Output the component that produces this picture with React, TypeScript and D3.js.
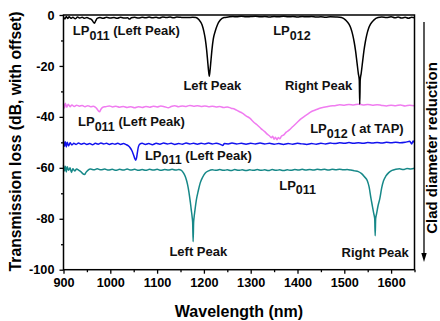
import React, { useEffect, useRef } from "react";
import * as d3 from "d3";

// wavelength (nm), transmission (dB, offset)
const blackCurve: [number, number][] = [
  [900, -0.8], [903, -1.6], [906, -0.6], [909, -1.4], [912, -0.7], [916, -1.3], [920, -0.9], [925, -1.5],
  [930, -0.8], [935, -1.2], [940, -0.9], [945, -1.3], [950, -1.0], [955, -1.4], [960, -1.8], [963, -2.6],
  [966, -3.2], [969, -2.2], [972, -1.3], [978, -1.0], [985, -1.3], [992, -0.9], [1000, -1.2], [1008, -1.0],
  [1015, -1.3], [1022, -0.9], [1030, -1.2], [1037, -1.1], [1041, -1.6], [1045, -1.1], [1052, -0.9],
  [1060, -1.2], [1068, -0.9], [1075, -1.1], [1083, -0.8], [1090, -1.1], [1098, -0.9], [1105, -1.2],
  [1112, -0.8], [1120, -1.0], [1128, -0.8], [1135, -1.1], [1142, -0.8], [1150, -0.9], [1158, -1.0],
  [1166, -1.0], [1176, -0.9], [1183, -1.0], [1190, -2.0], [1196, -3.8], [1200, -6.5], [1203, -9.5],
  [1206, -14], [1208, -18], [1210, -22], [1211.5, -24], [1213, -22], [1215, -18], [1217, -14],
  [1220, -9.5], [1224, -6.5], [1229, -3.8], [1235, -2.0], [1243, -1.0], [1252, -0.8], [1262, -0.6],
  [1270, -0.7], [1280, -0.5], [1290, -0.7], [1300, -0.6], [1310, -0.5], [1320, -0.7], [1330, -0.6],
  [1340, -0.8], [1350, -0.6], [1360, -0.7], [1370, -0.5], [1380, -0.7], [1390, -0.6], [1400, -0.8],
  [1410, -0.6], [1420, -0.7], [1430, -0.6], [1440, -0.8], [1450, -0.7], [1460, -0.9], [1470, -0.7],
  [1482, -0.8], [1494, -1.0], [1503, -2.0], [1510, -3.6], [1514, -5.2], [1518, -7.8], [1521, -10.5],
  [1524, -14], [1527, -18.5], [1530, -23], [1532, -25.5], [1533, -35], [1534, -25.5], [1536, -23],
  [1539, -18.5], [1542, -14], [1545, -10.5], [1548, -7.8], [1552, -5.2], [1556, -3.6], [1563, -2.0],
  [1572, -1.0], [1580, -0.8], [1590, -1.0], [1600, -0.7], [1608, -1.1], [1615, -0.8], [1622, -1.2],
  [1630, -0.9], [1637, -1.3], [1644, -0.9], [1650, -1.1],
];

const pinkCurve: [number, number][] = [
  [900, -34.8], [902, -36.5], [904, -34.6], [907, -36.2], [910, -35.0], [914, -36.0], [918, -35.3],
  [923, -35.9], [928, -35.4], [934, -35.8], [940, -35.5], [946, -36.0], [952, -35.6], [958, -36.0],
  [964, -35.8], [970, -36.5], [974, -37.5], [977, -38.0], [980, -37.0], [984, -36.2], [990, -36.0],
  [998, -35.7], [1005, -36.1], [1012, -35.8], [1020, -36.2], [1028, -35.9], [1036, -36.3], [1044, -36.0],
  [1052, -36.4], [1060, -36.0], [1068, -36.3], [1076, -35.9], [1084, -36.2], [1092, -35.8], [1100, -36.1],
  [1108, -35.7], [1116, -36.0], [1124, -36.4], [1130, -35.9], [1138, -35.6], [1146, -36.0], [1154, -35.7],
  [1162, -35.9], [1170, -35.5], [1178, -35.8], [1186, -35.6], [1194, -35.9], [1202, -35.7], [1210, -36.0],
  [1218, -35.8], [1226, -36.1], [1234, -35.9], [1242, -36.3], [1250, -36.1], [1258, -36.6], [1266, -37.0],
  [1274, -37.8], [1282, -38.5], [1290, -39.6], [1298, -40.5], [1306, -42.0], [1314, -43.2], [1322, -44.6],
  [1330, -45.8], [1336, -46.9], [1340, -47.4], [1344, -48.2], [1347, -47.6], [1350, -48.8], [1353, -48.0],
  [1356, -49.0], [1359, -48.1], [1362, -48.6], [1366, -47.5], [1370, -47.2], [1376, -46.0], [1382, -45.2],
  [1390, -43.8], [1398, -42.4], [1406, -41.0], [1414, -39.9], [1422, -38.9], [1430, -37.9], [1438, -37.3],
  [1446, -36.7], [1454, -36.3], [1462, -36.0], [1470, -35.7], [1480, -35.6], [1490, -35.2], [1500, -35.4],
  [1510, -35.1], [1520, -35.3], [1530, -35.0], [1540, -35.3], [1550, -35.1], [1560, -35.4], [1570, -35.2],
  [1580, -35.5], [1590, -35.7], [1600, -35.4], [1610, -35.6], [1620, -35.3], [1630, -35.7], [1640, -35.4],
  [1650, -35.6],
];

const blueCurve: [number, number][] = [
  [900, -49.4], [902, -51.5], [904, -49.8], [906, -51.8], [908, -50.0], [911, -51.4], [914, -50.2],
  [918, -51.0], [922, -50.4], [927, -50.8], [932, -50.3], [938, -50.7], [944, -50.4], [950, -50.8],
  [956, -50.5], [962, -50.9], [968, -50.4], [974, -50.7], [980, -50.3], [986, -50.6], [992, -50.4],
  [998, -50.8], [1004, -50.5], [1010, -50.7], [1016, -50.4], [1022, -50.8], [1028, -50.5], [1034, -50.9],
  [1038, -51.3], [1042, -52.0], [1046, -53.2], [1049, -54.6], [1052, -56.2], [1054, -57.0], [1056, -56.2],
  [1058, -53.8], [1060, -51.8], [1063, -50.7], [1068, -50.4], [1075, -50.8], [1082, -50.5], [1090, -50.9],
  [1098, -50.4], [1106, -50.7], [1114, -50.3], [1122, -50.6], [1130, -50.4], [1138, -50.8], [1146, -50.5],
  [1154, -50.7], [1162, -50.3], [1170, -50.6], [1178, -50.4], [1186, -50.7], [1194, -50.4], [1202, -50.6],
  [1210, -50.3], [1218, -50.6], [1226, -50.4], [1234, -50.7], [1240, -51.2], [1244, -50.5], [1252, -50.6],
  [1260, -50.3], [1270, -50.6], [1280, -50.4], [1290, -50.7], [1300, -50.4], [1310, -50.6], [1320, -50.3],
  [1330, -50.6], [1340, -50.4], [1350, -50.7], [1360, -50.5], [1370, -50.8], [1380, -50.5], [1390, -50.7],
  [1400, -50.4], [1410, -50.6], [1420, -50.8], [1430, -50.5], [1440, -50.7], [1450, -50.4], [1460, -50.6],
  [1470, -50.3], [1480, -50.5], [1490, -50.2], [1500, -50.4], [1510, -50.1], [1520, -50.4], [1530, -50.2],
  [1540, -50.4], [1550, -50.1], [1560, -50.3], [1570, -50.1], [1580, -50.3], [1590, -50.0], [1600, -50.2],
  [1610, -50.0], [1620, -50.2], [1630, -50.0], [1640, -49.6], [1644, -50.6], [1647, -49.5], [1650, -50.2],
];

const tealCurve: [number, number][] = [
  [900, -59.0], [902, -61.2], [904, -59.4], [906, -61.6], [908, -59.6], [911, -61.0], [914, -60.0],
  [917, -61.8], [920, -60.4], [924, -61.2], [928, -60.5], [933, -61.0], [937, -61.5], [941, -62.3],
  [945, -62.6], [948, -61.8], [952, -61.0], [958, -60.5], [965, -60.8], [972, -60.4], [980, -60.8],
  [988, -60.5], [996, -60.9], [1004, -60.6], [1012, -61.0], [1020, -60.6], [1028, -60.9], [1036, -60.5],
  [1044, -60.9], [1052, -60.6], [1060, -61.0], [1068, -60.7], [1076, -61.0], [1084, -60.6], [1092, -60.9],
  [1100, -60.6], [1108, -61.0], [1116, -60.7], [1124, -60.9], [1132, -60.6], [1140, -60.9], [1146, -60.7],
  [1152, -61.0], [1157, -62.2], [1161, -63.8], [1165, -66.5], [1168, -69.5], [1171, -73.5], [1173, -76.5],
  [1175, -79.5], [1176, -81.5], [1177, -89.0], [1178, -81.5], [1179, -79.5], [1181, -76.5], [1184, -72.5],
  [1188, -69.0], [1192, -66.0], [1197, -63.8], [1203, -62.0], [1210, -61.2], [1218, -60.8], [1226, -61.0],
  [1234, -60.7], [1242, -61.0], [1250, -60.8], [1258, -61.1], [1266, -60.7], [1274, -61.0], [1282, -60.8],
  [1290, -61.1], [1298, -60.8], [1306, -61.0], [1314, -60.7], [1322, -61.0], [1330, -60.8], [1338, -61.1],
  [1346, -60.7], [1354, -61.0], [1362, -60.8], [1370, -61.1], [1378, -60.8], [1386, -61.0], [1394, -60.7],
  [1402, -60.9], [1410, -60.6], [1418, -60.9], [1426, -60.7], [1434, -60.9], [1442, -60.6], [1450, -60.8],
  [1458, -60.6], [1466, -60.9], [1474, -60.6], [1482, -60.8], [1490, -60.6], [1498, -60.8], [1506, -60.7],
  [1514, -60.9], [1522, -61.2], [1530, -61.5], [1537, -62.3], [1543, -63.5], [1549, -65.0], [1553, -67.5],
  [1557, -72.0], [1560, -75.0], [1563, -78.0], [1565, -80.0], [1566, -86.7], [1567, -80.0], [1569, -78.0],
  [1572, -75.0], [1576, -72.0], [1580, -67.8], [1584, -65.0], [1589, -63.2], [1595, -61.9], [1602, -61.0],
  [1610, -60.6], [1618, -60.4], [1626, -60.7], [1634, -60.3], [1642, -60.5], [1650, -60.2],
];

const xMajorTicks = [900, 1000, 1100, 1200, 1300, 1400, 1500, 1600];
const xMinorTicks = [950, 1050, 1150, 1250, 1350, 1450, 1550, 1650];
const yMajorTicks = [0, -20, -40, -60, -80, -100];
const yMinorTicks = [-10, -30, -50, -70, -90];

// annotations: [main, subscript, rest, wavelength, dB, anchor]
const labels: [string, string, string, number, number, string][] = [
  ["LP", "011", " (Left Peak)", 920, -7.9, "start"],
  ["Left Peak", "", "", 1218, -29.5, "middle"],
  ["LP", "012", "", 1348, -7.9, "start"],
  ["Right Peak", "", "", 1445, -29.6, "middle"],
  ["LP", "011", " (Left Peak)", 931, -43.6, "start"],
  ["LP", "012", " ( at TAP)", 1427, -46.4, "start"],
  ["LP", "011", " (Left Peak)", 1074, -56.9, "start"],
  ["LP", "011", "", 1361, -68.7, "start"],
  ["Left Peak", "", "", 1188, -94.6, "middle"],
  ["Right Peak", "", "", 1566, -94.9, "middle"],
];

const series = [
  { data: tealCurve, color: "#168888" },
  { data: blueCurve, color: "#1212ee" },
  { data: pinkCurve, color: "#f07cf0" },
  { data: blackCurve, color: "#000000" },
];

const FONT = "'Liberation Sans', Arial, sans-serif";

const App = () => {
  const ref = useRef<SVGSVGElement>(null);

  useEffect(() => {
    const svg = d3.select(ref.current);
    svg.selectAll("*").remove();

    const x = d3.scaleLinear().domain([900, 1650]).range([63.5, 414.5]);
    const y = d3.scaleLinear().domain([-100, 0]).range([269.7, 15]);

    const line = d3
      .line<[number, number]>()
      .x((d) => x(d[0]))
      .y((d) => y(d[1]))
      .curve(d3.curveMonotoneX);

    series.forEach((s) => {
      svg
        .append("path")
        .attr("d", line(s.data))
        .attr("fill", "none")
        .attr("stroke", s.color)
        .attr("stroke-width", 1.5)
        .attr("stroke-linejoin", "round");
    });

    // frame
    svg
      .append("rect")
      .attr("x", x(900))
      .attr("y", y(0))
      .attr("width", x(1650) - x(900))
      .attr("height", y(-100) - y(0))
      .attr("fill", "none")
      .attr("stroke", "#000")
      .attr("stroke-width", 1.5);

    const styleAxis = (g: any) => {
      g.select(".domain").remove();
      g.selectAll("line").attr("stroke", "#000").attr("stroke-width", 1.3);
      g.selectAll("text")
        .attr("font-family", FONT)
        .attr("font-weight", "bold")
        .attr("font-size", 12.7)
        .attr("fill", "#000");
    };

    svg
      .append("g")
      .attr("transform", `translate(0,${y(-100)})`)
      .call(d3.axisBottom(x).tickValues(xMajorTicks).tickSize(4).tickPadding(4.3).tickFormat((d) => String(d)))
      .call(styleAxis);
    svg
      .append("g")
      .attr("transform", `translate(0,${y(-100)})`)
      .call(d3.axisBottom(x).tickValues(xMinorTicks).tickSize(2.5).tickFormat(() => ""))
      .call(styleAxis);
    svg
      .append("g")
      .attr("transform", `translate(${x(900)},0)`)
      .call(d3.axisLeft(y).tickValues(yMajorTicks).tickSize(4).tickPadding(5).tickFormat((d) => String(d)))
      .call(styleAxis);
    svg
      .append("g")
      .attr("transform", `translate(${x(900)},0)`)
      .call(d3.axisLeft(y).tickValues(yMinorTicks).tickSize(2.5).tickFormat(() => ""))
      .call(styleAxis);

    // annotations
    labels.forEach(([main, sub, rest, wl, db, anchor]) => {
      const t = svg
        .append("text")
        .attr("x", x(wl))
        .attr("y", y(db))
        .attr("text-anchor", anchor)
        .attr("font-family", FONT)
        .attr("font-weight", "bold")
        .attr("font-size", 13)
        .attr("fill", "#111");
      t.append("tspan").text(main);
      if (sub) t.append("tspan").attr("dy", 4.5).attr("font-size", 12.5).text(sub);
      if (rest) t.append("tspan").attr("dy", -4.5).text(rest);
    });

    // axis titles
    svg
      .append("text")
      .attr("x", 239)
      .attr("y", 316.5)
      .attr("text-anchor", "middle")
      .attr("font-family", FONT)
      .attr("font-weight", "bold")
      .attr("font-size", 16)
      .text("Wavelength (nm)");
    svg
      .append("text")
      .attr("transform", "translate(20.5,141.5) rotate(-90)")
      .attr("text-anchor", "middle")
      .attr("font-family", FONT)
      .attr("font-weight", "bold")
      .attr("font-size", 15.7)
      .text("Transmission loss (dB, with offset)");

    // clad diameter arrow
    svg
      .append("line")
      .attr("x1", 424)
      .attr("x2", 424)
      .attr("y1", 22)
      .attr("y2", 255)
      .attr("stroke", "#000")
      .attr("stroke-width", 1.3);
    svg
      .append("path")
      .attr("d", "M421.3,253 L426.7,253 L424,262 Z")
      .attr("fill", "#000");
    svg
      .append("text")
      .attr("transform", "translate(436.5,148) rotate(-90)")
      .attr("text-anchor", "middle")
      .attr("font-family", FONT)
      .attr("font-weight", "bold")
      .attr("font-size", 15)
      .text("Clad diameter reduction");
  }, []);

  return (
    <div style={{ position: "absolute", left: 0, top: 0 }}>
      <svg ref={ref} width={440} height={321} style={{ display: "block", background: "#fff" }} />
    </div>
  );
};

export default App;
